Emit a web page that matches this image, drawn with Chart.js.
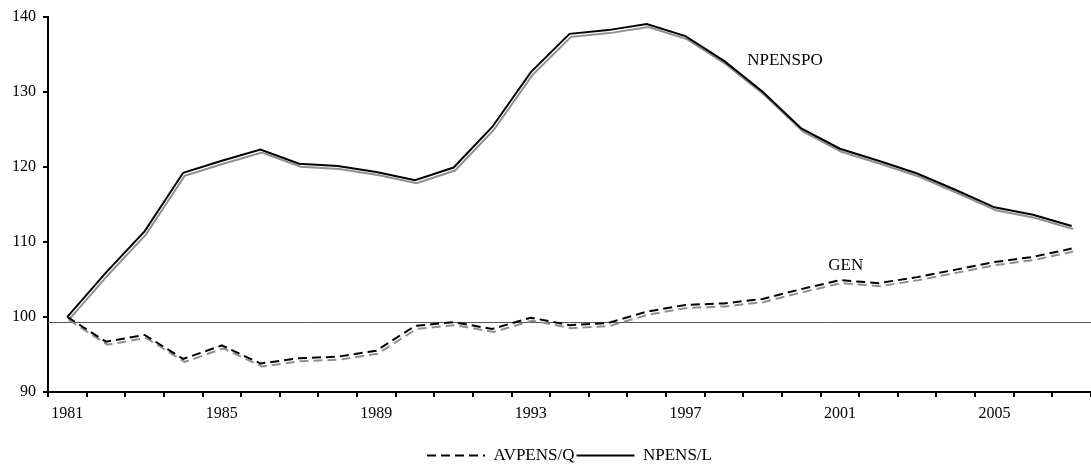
<!DOCTYPE html>
<html>
<head>
<meta charset="utf-8">
<script src="https://cdn.jsdelivr.net/npm/chart.js@4/dist/chart.umd.min.js"></script>
<style>
    html, body { margin: 0; padding: 0; background: #fff; }
    #wrap { width: 1091px; height: 474px; }
</style>
</head>
<body>
<div id="wrap"><canvas id="pensionChart"></canvas></div>
<script>
const years = [
    '1981', '1982', '1983', '1984', '1985', '1986', '1987', '1988', '1989',
    '1990', '1991', '1992', '1993', '1994', '1995', '1996', '1997', '1998',
    '1999', '2000', '2001', '2002', '2003', '2004', '2005', '2006', '2007'
];
const avpensQ = [100, 96.7, 97.6, 94.4, 96.2, 93.8, 94.5, 94.7, 95.5, 98.8, 99.3, 98.4, 99.9, 98.9,
    99.2, 100.7, 101.6, 101.8, 102.4, 103.7, 104.9, 104.5, 105.3, 106.3, 107.3, 108.0, 109.1];
const npensL = [100, 105.9, 111.4, 119.2, 120.8, 122.3, 120.4, 120.1, 119.3, 118.2, 119.9, 125.3, 132.6, 137.7,
    138.2, 139.0, 137.4, 134.1, 130.0, 125.1, 122.4, 120.8, 119.1, 116.9, 114.6, 113.6, 112.1];
const yTicks = [90, 100, 110, 120, 130, 140];
const baseLevel = 99.3;
const noteTexts = ['NPENSPO', 'GEN'];

// where the two series labels sit (category index, value)
const notePlaces = [[17.6, 134.1], [19.7, 106.8]];

const serif = "'Liberation Serif', 'Times New Roman', serif";

// grey drop shadow under each line, like the original spreadsheet chart
const shadowPlugin = {
    id: 'shadow',
    beforeDatasetDraw(chart) {
        const c = chart.ctx;
        c.save();
        c.shadowColor = '#8f8f8f';
        c.shadowBlur = 0;
        c.shadowOffsetX = 1.5;
        c.shadowOffsetY = 3;
    },
    afterDatasetDraw(chart) {
        chart.ctx.restore();
    }
};

const extrasPlugin = {
    id: 'extras',
    beforeDatasetsDraw(chart) {
        const { ctx, chartArea, scales } = chart;
        const y = Math.round(scales.y.getPixelForValue(baseLevel)) + 0.5;
        ctx.save();
        ctx.strokeStyle = '#555';
        ctx.lineWidth = 1;
        ctx.beginPath();
        ctx.moveTo(chartArea.left, y);
        ctx.lineTo(chartArea.right, y);
        ctx.stroke();
        ctx.restore();
    },
    afterDatasetsDraw(chart) {
        const { ctx, scales } = chart;
        ctx.save();
        ctx.fillStyle = '#000';
        ctx.font = '17px ' + serif;
        ctx.textAlign = 'left';
        ctx.textBaseline = 'middle';
        noteTexts.forEach((t, i) => {
            ctx.fillText(t, scales.x.getPixelForValue(notePlaces[i][0]), scales.y.getPixelForValue(notePlaces[i][1]));
        });
        ctx.restore();
    }
};

const config = {
    type: 'line',
    data: {
        labels: years,
        datasets: [
            {
                label: 'AVPENS/Q',
                data: avpensQ,
                borderColor: '#000',
                borderWidth: 2,
                borderDash: [9, 5],
                pointRadius: 0,
                tension: 0,
                fill: false
            },
            {
                label: 'NPENS/L',
                data: npensL,
                borderColor: '#000',
                borderWidth: 2,
                pointRadius: 0,
                tension: 0,
                fill: false
            }
        ]
    },
    options: {
        responsive: true,
        maintainAspectRatio: false,
        animation: false,
        layout: {
            padding: { top: 13, right: 0, left: 0, bottom: 0 }
        },
        scales: {
            x: {
                type: 'category',
                offset: true,
                afterFit: (s) => { s.height = 53; },
                grid: {
                    offset: true,
                    drawOnChartArea: false,
                    drawTicks: true,
                    tickLength: 5,
                    color: '#000',
                    lineWidth: 2
                },
                border: { color: '#000', width: 2 },
                ticks: {
                    autoSkip: false,
                    maxRotation: 0,
                    color: '#000',
                    padding: 7,
                    font: { family: serif, size: 16 },
                    callback: (v, i) => (i % 4 === 0 ? years[i] : '')
                }
            },
            y: {
                min: 90,
                max: 140,
                afterBuildTicks: (s) => { s.ticks = yTicks.map(v => ({ value: v })); },
                afterFit: (s) => { s.width = 48; },
                grid: {
                    drawOnChartArea: false,
                    tickLength: 5,
                    color: '#000',
                    lineWidth: 2
                },
                border: { color: '#000', width: 2 },
                ticks: {
                    color: '#000',
                    padding: 7,
                    font: { family: serif, size: 16 }
                }
            }
        },
        plugins: {
            tooltip: { enabled: false },
            title: { display: false },
            legend: {
                display: true,
                position: 'bottom',
                fullSize: false,
                labels: {
                    color: '#000',
                    usePointStyle: true,
                    pointStyle: 'line',
                    pointStyleWidth: 58,
                    padding: 2,
                    font: { family: serif, size: 17 },
                    // keep the dash pattern of each line in its legend sample
                    generateLabels: (chart) =>
                        Chart.defaults.plugins.legend.labels.generateLabels(chart).map((item, i) => ({
                            ...item,
                            lineDash: chart.data.datasets[i].borderDash || [],
                            lineWidth: 2,
                            strokeStyle: '#000'
                        }))
                }
            }
        }
    },
    plugins: [shadowPlugin, extrasPlugin]
};

const pensionChart = new Chart(document.getElementById('pensionChart'), config);
</script>
</body>
</html>
